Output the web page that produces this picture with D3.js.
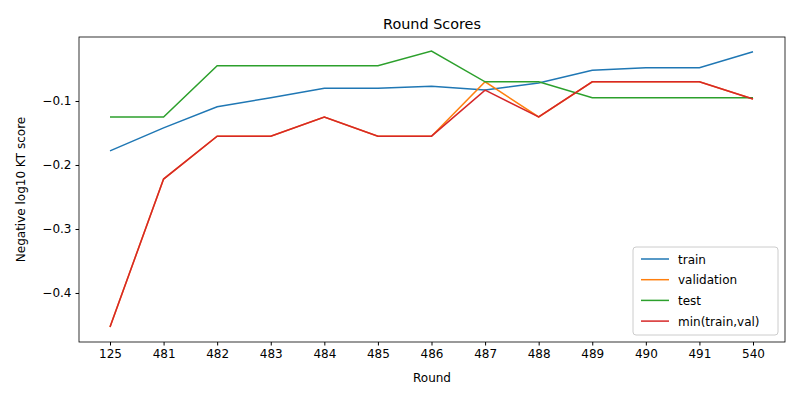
<!DOCTYPE html>
<html>
<head>
<meta charset="utf-8">
<script src="https://cdn.jsdelivr.net/npm/d3@7"></script>
<style>
  body { margin: 0; background: #fff; }
  text { font-family: "DejaVu Sans", sans-serif; }
</style>
</head>
<body>
<svg id="chart" width="800" height="400"></svg>
<script>
// Data
const rounds     = ['125','481','482','483','484','485','486','487','488','489','490','491','540'];
const train      = [-0.178,-0.142,-0.109,-0.095,-0.080,-0.080,-0.077,-0.083,-0.072,-0.052,-0.048,-0.048,-0.023];
const validation = [-0.453,-0.222,-0.155,-0.155,-0.125,-0.155,-0.155,-0.070,-0.125,-0.070,-0.070,-0.070,-0.097];
const test       = [-0.125,-0.125,-0.045,-0.045,-0.045,-0.045,-0.022,-0.070,-0.070,-0.095,-0.095,-0.095,-0.095];
const minTrainVal= [-0.453,-0.222,-0.155,-0.155,-0.125,-0.155,-0.155,-0.083,-0.125,-0.070,-0.070,-0.070,-0.097];
const yTicks     = [-0.1,-0.2,-0.3,-0.4];

const series = [
  { name: 'train',          values: train,       color: '#1f77b4' },
  { name: 'validation',     values: validation,  color: '#ff7f0e' },
  { name: 'test',           values: test,        color: '#2ca02c' },
  { name: 'min(train,val)', values: minTrainVal, color: '#d62728' }
];

const m = { left: 79, right: 15, top: 37, bottom: 58 };
const W = 800, H = 400;
const svg = d3.select('#chart');

const x = d3.scalePoint().domain(rounds).range([110, 753]);
const y = d3.scaleLinear().domain([-0.4766, 0.0]).range([H - m.bottom, m.top]);

// Axes
const xAxis = svg.append('g')
  .attr('transform', `translate(0,${H - m.bottom})`)
  .call(d3.axisBottom(x).tickSizeOuter(0).tickSize(3.5).tickPadding(4));
const yAxis = svg.append('g')
  .attr('transform', `translate(${m.left},0)`)
  .call(d3.axisLeft(y).tickValues(yTicks).tickSize(3.5).tickPadding(4)
    .tickFormat(d => d3.format('.1f')(d).replace('-', '\u2212')));
[xAxis, yAxis].forEach(a => {
  a.selectAll('text').attr('font-size', 12).attr('fill', '#000').style('font-family', 'DejaVu Sans');
  a.selectAll('line').attr('stroke', '#000');
  a.select('.domain').remove();
});

svg.append('rect')
  .attr('x', m.left).attr('y', m.top)
  .attr('width', W - m.left - m.right).attr('height', H - m.top - m.bottom)
  .attr('fill', 'none').attr('stroke', '#000').attr('stroke-width', 0.8);

// Lines
const line = d3.line().x((d, i) => x(rounds[i])).y(d => y(d));
series.forEach(s => {
  svg.append('path')
    .attr('d', line(s.values))
    .attr('fill', 'none')
    .attr('stroke', s.color)
    .attr('stroke-width', 1.5);
});

// Labels
svg.append('text').attr('x', (m.left + W - m.right) / 2).attr('y', 29)
  .attr('text-anchor', 'middle').attr('font-size', 14.4).text('Round Scores');
svg.append('text').attr('x', (m.left + W - m.right) / 2).attr('y', 382)
  .attr('text-anchor', 'middle').attr('font-size', 12).text('Round');
svg.append('text').attr('transform', `translate(25,${(m.top + H - m.bottom) / 2}) rotate(-90)`)
  .attr('text-anchor', 'middle').attr('font-size', 12).text('Negative log10 KT score');

// Legend
const lg = svg.append('g').attr('transform', 'translate(633,247)');
lg.append('rect').attr('width', 145).attr('height', 88).attr('rx', 3)
  .attr('fill', '#fff').attr('fill-opacity', 0.8).attr('stroke', '#ccc');
series.forEach((s, i) => {
  const gy = 12 + i * 20.7;
  lg.append('line').attr('x1', 8).attr('x2', 36).attr('y1', gy).attr('y2', gy)
    .attr('stroke', s.color).attr('stroke-width', 1.5);
  lg.append('text').attr('x', 45).attr('y', gy + 4.5).attr('font-size', 12).text(s.name);
});
</script>
</body>
</html>
